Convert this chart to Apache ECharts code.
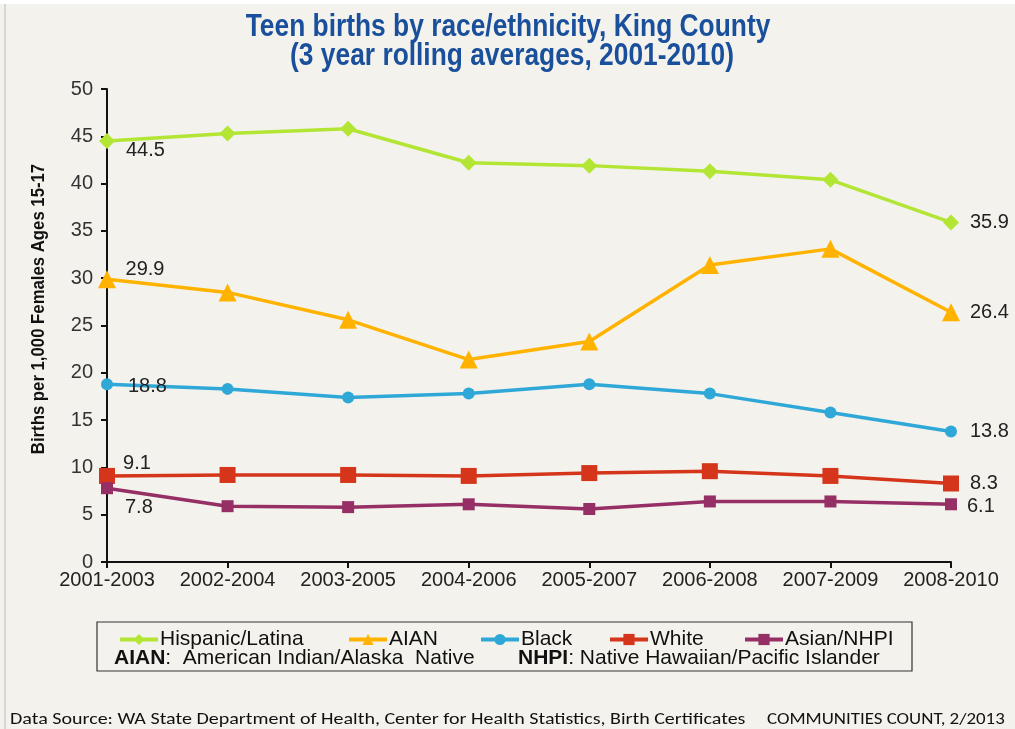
<!DOCTYPE html>
<html><head><meta charset="utf-8">
<script src="https://cdn.jsdelivr.net/npm/echarts@6/dist/echarts.min.js"></script>
<style>html,body{margin:0;padding:0;background:#f3f2ec;}#c{width:1015px;height:729px;}</style>
</head><body><div id="c"></div>
<script>
const categories = ['2001-2003','2002-2004','2003-2005','2004-2006','2005-2007','2006-2008','2007-2009','2008-2010'];
const hispanic = [44.5, 45.3, 45.8, 42.2, 41.9, 41.3, 40.4, 35.9];
const aian     = [29.9, 28.5, 25.6, 21.4, 23.3, 31.4, 33.1, 26.4];
const black    = [18.8, 18.3, 17.4, 17.8, 18.8, 17.8, 15.8, 13.8];
const white    = [9.1, 9.2, 9.2, 9.1, 9.4, 9.6, 9.1, 8.3];
const asian    = [7.8, 5.9, 5.8, 6.1, 5.6, 6.4, 6.4, 6.1];
const seriesNames = ['Hispanic/Latina','AIAN','Black','White','Asian/NHPI'];
const yTicks = {min:0, max:50, interval:5};

const sans = '"Liberation Sans", Arial, sans-serif';
const foot = 'Carlito, "Open Sans", sans-serif';

function mkSeries(name, data, color, symbol, size, firstPos, firstOff, lastOff){
  return {
    name, type:'line', data: data.map((v,i)=>{
      if(i===0) return {value:v, label:{show:true, position:firstPos, offset:firstOff}};
      if(i===data.length-1) return {value:v, label:{show:true, position:'right', offset:lastOff}};
      return v;
    }),
    symbol, symbolSize:size, showAllSymbol:true,
    lineStyle:{color, width:3.5}, itemStyle:{color},
    label:{show:false, color:'#222', fontSize:20, fontFamily:sans, formatter:p=>p.value.toFixed(1)},
    z: 2
  };
}
const chart = echarts.init(document.getElementById('c'));
const legendLefts = [113, 342, 474, 603, 738];
chart.setOption({
  backgroundColor:'#f3f2ec',
  animation:false,
  grid:{left:107, right:64, top:89, bottom:167},
  xAxis:{type:'category', data:categories, boundaryGap:false,
    axisLine:{lineStyle:{color:'#111', width:2}}, axisTick:{show:true, length:6, interval:0, lineStyle:{color:'#111', width:2}},
    axisLabel:{color:'#222', fontSize:20, fontFamily:sans, margin:8, interval:0}},
  yAxis:{type:'value', min:yTicks.min, max:yTicks.max, interval:yTicks.interval,
    axisLine:{show:true, lineStyle:{color:'#111', width:2}}, axisTick:{show:true, length:6, lineStyle:{color:'#111', width:2}},
    splitLine:{show:false},
    axisLabel:{color:'#333', fontSize:20, fontFamily:sans, margin:14}},
  legend: seriesNames.map((n,i)=>({data:[n], left:legendLefts[i], top:624, itemWidth:38, itemHeight:14, itemGap:0,
    lineStyle:{width:4}, textStyle:{color:'#111', fontSize:21, fontFamily:sans, padding:[0,0,0,-3]}})),
  series:[
    mkSeries(seriesNames[0], hispanic, '#b3e534', 'diamond', 16, 'right', [6,9], [6,0]),
    mkSeries(seriesNames[1], aian, '#ffb300', 'triangle', 18, 'top', [38,14], [5,0]),
    mkSeries(seriesNames[2], black, '#2fa8d8', 'circle', 12, 'right', [10,2], [8,0]),
    mkSeries(seriesNames[3], white, '#d5361b', 'rect', 16, 'top', [30,11], [6,0]),
    mkSeries(seriesNames[4], asian, '#962f66', 'rect', 12, 'right', [7,19], [5,2])
  ],
  graphic:[
    {type:'text', x:508, y:27, scaleX:0.85, style:{text:'Teen births by race/ethnicity, King County', textAlign:'center', textVerticalAlign:'middle', fontSize:31, fontWeight:'bold', fontFamily:sans, fill:'#1a4f9c'}},
    {type:'text', x:512, y:56, scaleX:0.85, style:{text:'(3 year rolling averages, 2001-2010)', textAlign:'center', textVerticalAlign:'middle', fontSize:31, fontWeight:'bold', fontFamily:sans, fill:'#1a4f9c'}},
    {type:'text', x:39, y:309, rotation:Math.PI/2, scaleX:0.93, style:{text:'Births per 1,000 Females Ages 15-17', textAlign:'center', textVerticalAlign:'middle', fontSize:18, fontWeight:'bold', fontFamily:sans, fill:'#111'}},
    {type:'rect', shape:{x:97, y:622, width:815, height:49}, style:{fill:'none', stroke:'#333', lineWidth:1.2}, z:-1},
    {type:'line', shape:{x1:5, y1:0, x2:5, y2:729}, style:{stroke:'#bbb', lineWidth:1}},
    {type:'rect', shape:{x:0, y:0, width:1015, height:4}, style:{fill:'#ffffff'}},
    {type:'text', x:114, y:658, style:{textVerticalAlign:'middle', rich:{b:{fontWeight:'bold', fontSize:21, fontFamily:sans, fill:'#111'}, n:{fontSize:21, fontFamily:sans, fill:'#111'}}, text:'{b|AIAN}{n|:  American Indian/Alaska  Native}'}},
    {type:'text', x:518, y:658, style:{textVerticalAlign:'middle', rich:{b:{fontWeight:'bold', fontSize:21, fontFamily:sans, fill:'#111'}, n:{fontSize:21, fontFamily:sans, fill:'#111'}}, text:'{b|NHPI}{n|: Native Hawaiian/Pacific Islander}'}},
    {type:'text', x:10, y:720, scaleX:1.25, style:{text:'Data Source: WA State Department of Health, Center for Health Statistics, Birth Certificates', textVerticalAlign:'middle', fontSize:16, fontFamily:foot, fill:'#111'}},
    {type:'text', x:767, y:720, scaleX:1.18, style:{text:'COMMUNITIES COUNT, 2/2013', textVerticalAlign:'middle', fontSize:16, fontFamily:foot, fill:'#111'}}
  ]
});
</script></body></html>
